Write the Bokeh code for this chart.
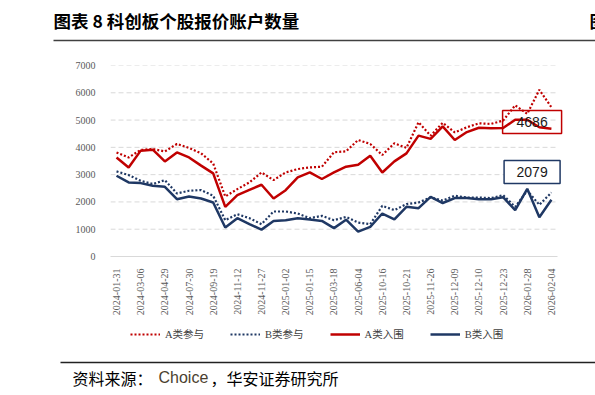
import math
from bokeh.plotting import figure
from bokeh.layouts import column
from bokeh.models import (FixedTicker, Legend, LegendItem, ColumnDataSource, Range1d)
from bokeh.core.properties import value
from bokeh.embed import file_html
from bokeh.resources import INLINE

# ---------------- data ----------------
tick_labels = ["2024-01-31", "2024-03-06", "2024-04-29", "2024-07-30", "2024-09-19",
               "2024-11-12", "2024-11-27", "2025-01-02", "2025-01-15", "2025-03-18",
               "2025-06-04", "2025-10-16", "2025-10-21", "2025-11-26", "2025-12-09",
               "2025-12-10", "2025-12-23", "2026-01-28", "2026-02-04"]

a_participate = [3815, 3630, 3905, 3940, 3850, 4125, 3980, 3780, 3410, 2200,
                 2470, 2715, 3080, 2800, 3080, 3205, 3265, 3290, 3820, 3855,
                 4270, 4125, 3720, 4150, 3980, 4920, 4430, 4900, 4550, 4735,
                 4880, 4860, 4980, 5540, 5230, 6110, 5470]
b_participate = [3120, 2985, 2775, 2655, 2800, 2310, 2410, 2435, 2225, 1330,
                 1550, 1405, 1185, 1650, 1650, 1575, 1405, 1490, 1330, 1450,
                 1245, 1185, 1855, 1700, 1920, 1980, 2160, 2050, 2225, 2160,
                 2160, 2140, 2250, 1820, 2410, 1895, 2345]
a_selected = [3630, 3265, 3880, 3915, 3485, 3815, 3630, 3330, 3045, 1820,
              2250, 2445, 2630, 2125, 2430, 2900, 3080, 2840, 3080, 3290,
              3365, 3695, 3080, 3485, 3780, 4430, 4310, 4770, 4270, 4560,
              4720, 4700, 4710, 5010, 5010, 4735, 4686]
b_selected = [2960, 2715, 2690, 2590, 2555, 2100, 2200, 2125, 1980, 1060,
              1405, 1185, 985, 1305, 1330, 1405, 1355, 1305, 1040, 1350,
              910, 1085, 1575, 1365, 1820, 1770, 2185, 1960, 2140, 2140,
              2100, 2100, 2175, 1700, 2480, 1440, 2079]

series_names = ["A类参与", "B类参与", "A类入围", "B类入围"]
y_ticks = [0, 1000, 2000, 3000, 4000, 5000, 6000, 7000]

title_text = "图表 8 科创板个股报价账户数量"
source_parts = ["资料来源：", "Choice", "，华安证券研究所"]
footer_note = "敬请参阅末页重要声明及评级说明"

n = len(a_selected)
xs = list(range(n))

RED = "#c00000"
NAVY = "#1f3864"
SERIF_S = "'Liberation Serif', 'Noto Sans CJK SC'"
CJK_S = "Noto Sans CJK SC"
SANS_S = "Liberation Sans"
W = 595
NAN = float("nan")


def blank(height, y_top):
    f = figure(width=W, height=height, x_range=Range1d(0, W),
               y_range=Range1d(y_top + height, y_top),
               x_axis_type=None, y_axis_type=None, min_border=0,
               frame_align=False,
               output_backend="svg", toolbar_location=None)
    f.outline_line_color = None
    f.background_fill_color = "white"
    f.border_fill_color = "white"
    return f


# ---------------- header ----------------
HEAD_H = 45
head = blank(HEAD_H, 0)
head.text(x=[53], y=[20], text=[title_text], text_font=value(CJK_S),
          text_font_size="17.5px", text_font_style="bold", text_color="black",
          text_baseline="middle")
head.text(x=[589], y=[20], text=["图"], text_font=value(CJK_S),
          text_font_size="17.5px", text_font_style="bold", text_color="black",
          text_baseline="middle")
head.segment(x0=[53], y0=[40], x1=[W], y1=[40], line_color="#404040", line_width=1.6)

# ---------------- main chart ----------------
CAT_PX = 12.08
FRAME_L, FRAME_W = 110, 455
x_end = -0.5 + FRAME_W / CAT_PX

p = figure(frame_width=FRAME_W, frame_height=191,
           min_border_left=FRAME_L, min_border_right=W - FRAME_L - FRAME_W,
           min_border_top=20, min_border_bottom=62,
           x_range=Range1d(-0.5, x_end), y_range=Range1d(0, 7000),
           frame_align=False,
           output_backend="svg", toolbar_location=None)
p.outline_line_color = None
p.background_fill_color = "white"
p.border_fill_color = "white"

# horizontal dashed gridlines across the category span
p.ygrid.grid_line_color = None
p.xgrid.grid_line_color = None
gsrc = ColumnDataSource(dict(x0=[-0.5] * (len(y_ticks) - 1), x1=[n - 0.5] * (len(y_ticks) - 1),
                             y=y_ticks[1:]))
p.segment(x0="x0", y0="y", x1="x1", y1="y", source=gsrc,
          line_color="#d9d9d9", line_width=1, line_dash="5 3")

src = ColumnDataSource(dict(x=xs, ap=a_participate, bp=b_participate,
                            asel=a_selected, bsel=b_selected))

p.line("x", "ap", source=src, line_color=RED, line_width=2.2, line_dash="2 2")
p.line("x", "bp", source=src, line_color=NAVY, line_width=2.2, line_dash="2 2")
p.line("x", "asel", source=src, line_color=RED, line_width=2.5)
p.line("x", "bsel", source=src, line_color=NAVY, line_width=2.5)

# axes
p.yaxis.ticker = FixedTicker(ticks=y_ticks)
p.yaxis.axis_line_color = None
p.yaxis.major_tick_line_color = None
p.yaxis.minor_tick_line_color = None
p.yaxis.major_label_text_font = SERIF_S
p.yaxis.major_label_text_font_size = "10px"
p.yaxis.major_label_text_color = "#595959"
p.yaxis.major_label_standoff = 9

tick_pos = list(range(0, n, 2))
p.xaxis.ticker = FixedTicker(ticks=tick_pos)
p.xaxis.bounds = (-0.5, n - 0.5)
p.xaxis.major_label_overrides = {t: lab for t, lab in zip(tick_pos, tick_labels)}
p.xaxis.major_label_orientation = math.pi / 2
p.xaxis.axis_line_color = "#d9d9d9"
p.xaxis.major_tick_line_color = None
p.xaxis.minor_tick_line_color = None
p.xaxis.major_label_text_font = SERIF_S
p.xaxis.major_label_text_font_size = "10px"
p.xaxis.major_label_text_color = "#595959"
p.xaxis.major_label_standoff = 6

# value callouts near the last points
box_x = (n - 1) - 1.6
p.rect(x=[box_x], y=[a_selected[-1] + 240], width=59, height=23,
       width_units="screen", height_units="screen",
       fill_alpha=0, line_color=RED, line_width=1.5)
p.rect(x=[box_x], y=[b_selected[-1] + 1020], width=56, height=23,
       width_units="screen", height_units="screen",
       fill_color="white", line_color=NAVY, line_width=1.5)
p.text(x=[box_x], y=[a_selected[-1] + 240], text=[str(a_selected[-1])],
       text_font=value(SANS_S), text_font_size="14px", text_color="#1a1a1a",
       text_align="center", text_baseline="middle")
p.text(x=[box_x], y=[b_selected[-1] + 1020], text=[str(b_selected[-1])],
       text_font=value(SANS_S), text_font_size="14px", text_color="#1a1a1a",
       text_align="center", text_baseline="middle")

MAIN_H = 20 + 191 + 62

# ---------------- footer ----------------
FOOT_TOP = HEAD_H + MAIN_H
FOOT_H = 395 - FOOT_TOP
foot = blank(FOOT_H, FOOT_TOP)

# legend-only renderers (no visible data)
d_ap = foot.line(x=[NAN], y=[NAN], line_color=RED, line_width=2.2, line_dash="2 2")
d_bp = foot.line(x=[NAN], y=[NAN], line_color=NAVY, line_width=2.2, line_dash="2 2")
d_as = foot.line(x=[NAN], y=[NAN], line_color=RED, line_width=2.5)
d_bs = foot.line(x=[NAN], y=[NAN], line_color=NAVY, line_width=2.5)

legend = Legend(items=[LegendItem(label=series_names[0], renderers=[d_ap]),
                       LegendItem(label=series_names[1], renderers=[d_bp]),
                       LegendItem(label=series_names[2], renderers=[d_as]),
                       LegendItem(label=series_names[3], renderers=[d_bs])],
                location=(130, 395 - 341), orientation="horizontal",
                padding=0, margin=0, spacing=26,
                glyph_width=30, glyph_height=12, label_height=12,
                label_standoff=5,
                label_text_font=SERIF_S, label_text_font_size="10.5px",
                label_text_color="#404040",
                border_line_alpha=0, background_fill_alpha=0)
foot.add_layout(legend, "center")

foot.segment(x0=[60], y0=[362], x1=[W], y1=[362], line_color="#222222", line_width=1.4)
foot.text(x=[72], y=[377], text=[source_parts[0]], text_font=value(CJK_S),
          text_font_size="16px", text_color="black", text_baseline="middle")
foot.text(x=[158], y=[377], text=[source_parts[1]], text_font=value(SANS_S),
          text_font_size="16px", text_color="#4b3f2f", text_baseline="middle")
foot.text(x=[210], y=[377], text=[source_parts[2]], text_font=value(CJK_S),
          text_font_size="16px", text_color="black", text_baseline="middle")
foot.text(x=[393], y=[390], text=[footer_note], text_font=value(CJK_S),
          text_font_size="16px", text_color="black", text_baseline="top")

layout = column(head, p, foot, spacing=0)
open("out.html", "w").write(file_html(layout, INLINE))
